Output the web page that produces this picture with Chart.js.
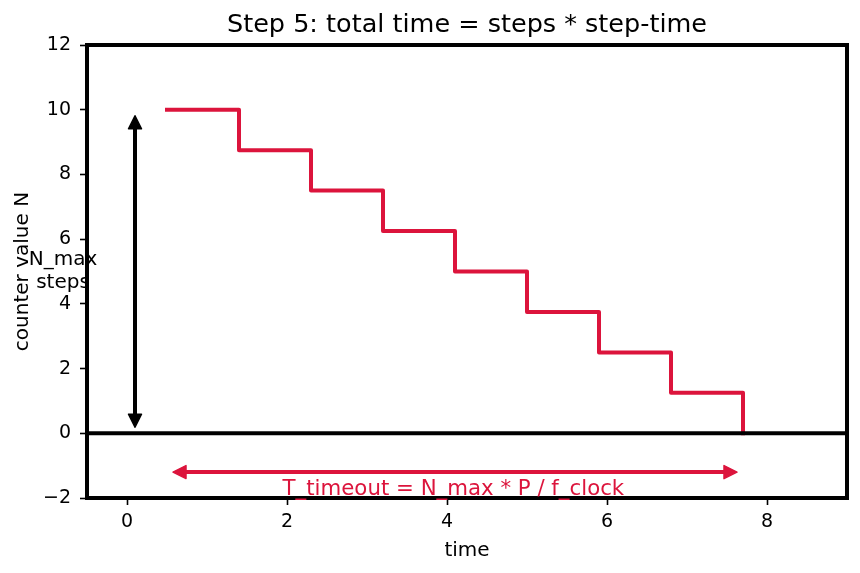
<!DOCTYPE html>
<html>
<head>
<meta charset="utf-8">
<script src="https://cdn.jsdelivr.net/npm/chart.js@4"></script>
<style>
  html, body { margin: 0; padding: 0; background: #fff; }
  #wrap { width: 860px; height: 573px; }
</style>
</head>
<body>
<div id="wrap"><canvas id="chart" width="860" height="573"></canvas></div>
<script>
// counter steps: horizontal run ends at stepX[i], then drops to stepN[i]
const stepX = [0.5, 1.4, 2.3, 3.2, 4.1, 5.0, 5.9, 6.8, 7.7]
const stepN = [10, 8.75, 7.5, 6.25, 5, 3.75, 2.5, 1.25, 0]
const zeroX = [-0.5, 9]
const xTicks = [0, 2, 4, 6, 8]
const yTicks = [-2, 0, 2, 4, 6, 8, 10, 12]

// annotations (data coords)
const stepsArrow = { x: 0.1, from: 0, to: 10 }
const timeArrow = { y: -1.2, from: 0.5, to: 7.7 }
const stepsLabel = { x: -0.8, y: 5, lines: ['N_max', 'steps'] }
const timeLabel = { x: 4.08, y: -1.92, text: 'T_timeout = N_max * P / f_clock' }

const RED = '#DC143C'
const FONT = '"DejaVu Sans", sans-serif'

function drawArrow(ctx, x1, y1, x2, y2, color) {
  const shrink = 6, headLen = 13, headW = 6.5
  const dx = x2 - x1, dy = y2 - y1
  const len = Math.hypot(dx, dy)
  const ux = dx / len, uy = dy / len
  const ax = x1 + ux * shrink, ay = y1 + uy * shrink
  const bx = x2 - ux * shrink, by = y2 - uy * shrink
  ctx.save()
  ctx.strokeStyle = color
  ctx.fillStyle = color
  ctx.lineWidth = 4
  ctx.beginPath()
  ctx.moveTo(ax + ux * headLen, ay + uy * headLen)
  ctx.lineTo(bx - ux * headLen, by - uy * headLen)
  ctx.stroke()
  ctx.lineJoin = 'round'
  ctx.lineWidth = 1.5
  const head = (tx, ty, dirx, diry) => {
    ctx.beginPath()
    ctx.moveTo(tx, ty)
    ctx.lineTo(tx - dirx * headLen - diry * headW, ty - diry * headLen + dirx * headW)
    ctx.lineTo(tx - dirx * headLen + diry * headW, ty - diry * headLen - dirx * headW)
    ctx.closePath()
    ctx.fill()
    ctx.stroke()
  }
  head(bx, by, ux, uy)
  head(ax, ay, -ux, -uy)
  ctx.restore()
}

const overlay = {
  id: 'overlay',
  afterDatasetsDraw(chart) {
    const { ctx, chartArea: a, scales: { x, y } } = chart
    // box around plot
    ctx.save()
    ctx.strokeStyle = '#000'
    ctx.lineWidth = 4
    ctx.strokeRect(a.left, a.top, a.right - a.left, a.bottom - a.top)
    ctx.restore()

    drawArrow(ctx, x.getPixelForValue(stepsArrow.x), y.getPixelForValue(stepsArrow.from),
      x.getPixelForValue(stepsArrow.x), y.getPixelForValue(stepsArrow.to), '#000')
    drawArrow(ctx, x.getPixelForValue(timeArrow.from), y.getPixelForValue(timeArrow.y),
      x.getPixelForValue(timeArrow.to), y.getPixelForValue(timeArrow.y), RED)

    ctx.save()
    ctx.font = '20px ' + FONT
    ctx.textAlign = 'center'
    ctx.textBaseline = 'middle'
    ctx.fillStyle = '#000'
    const sx = x.getPixelForValue(stepsLabel.x)
    const sy = y.getPixelForValue(stepsLabel.y)
    ctx.fillText(stepsLabel.lines[0], sx, sy - 11.5)
    ctx.fillText(stepsLabel.lines[1], sx, sy + 11.5)

    ctx.fillStyle = RED
    ctx.textBaseline = 'alphabetic'
    ctx.font = '21.3px ' + FONT
    ctx.fillText(timeLabel.text, x.getPixelForValue(timeLabel.x), y.getPixelForValue(timeLabel.y))
    ctx.restore()
  }
}

const tickFont = { family: FONT, size: 19 }

new Chart(document.getElementById('chart'), {
  type: 'line',
  data: {
    datasets: [
      {
        label: 'zero',
        data: zeroX.map(v => ({ x: v, y: 0 })),
        borderColor: '#000',
        borderWidth: 4,
        pointRadius: 0,
      },
      {
        label: 'counter',
        data: stepX.map((v, i) => ({ x: v, y: stepN[i] })),
        borderColor: RED,
        borderWidth: 4,
        borderJoinStyle: 'round',
        borderCapStyle: 'square',
        stepped: 'before',
        pointRadius: 0,
      }
    ]
  },
  options: {
    responsive: false,
    animation: false,
    layout: { padding: { top: 0, right: 13, bottom: 0, left: 0 } },
    scales: {
      x: {
        type: 'linear',
        min: -0.5,
        max: 9,
        afterBuildTicks: s => { s.ticks = xTicks.map(v => ({ value: v })) },
        afterFit: s => { s.height = 75 },
        grid: { display: true, drawOnChartArea: false, drawTicks: true, tickLength: 7, tickColor: '#000', tickWidth: 1.6 },
        border: { display: false },
        ticks: { color: '#000', font: tickFont, padding: 6, maxRotation: 0 },
        title: { display: true, text: 'time', color: '#000', font: { family: FONT, size: 20 }, padding: { top: 0, bottom: 10 } }
      },
      y: {
        type: 'linear',
        min: -2,
        max: 12,
        afterBuildTicks: s => { s.ticks = yTicks.map(v => ({ value: v })) },
        afterFit: s => { s.width = 87 },
        grid: { display: true, drawOnChartArea: false, drawTicks: true, tickLength: 7, tickColor: '#000', tickWidth: 1.6 },
        border: { display: false },
        ticks: {
          color: '#000', font: tickFont, padding: 9,
          callback: v => v < 0 ? '\u2212' + Math.abs(v) : String(v)
        },
        title: { display: true, text: 'counter value N', color: '#000', font: { family: FONT, size: 20 }, padding: { top: 10.5, bottom: 0 } }
      }
    },
    plugins: {
      legend: { display: false },
      tooltip: { enabled: false },
      title: {
        display: true,
        fullSize: false,
        text: 'Step 5: total time = steps * step-time',
        color: '#000',
        font: { family: FONT, size: 25.5, weight: 'normal' },
        padding: { top: 10, bottom: 4.4 }
      }
    }
  },
  plugins: [overlay]
})
</script>
</body>
</html>
